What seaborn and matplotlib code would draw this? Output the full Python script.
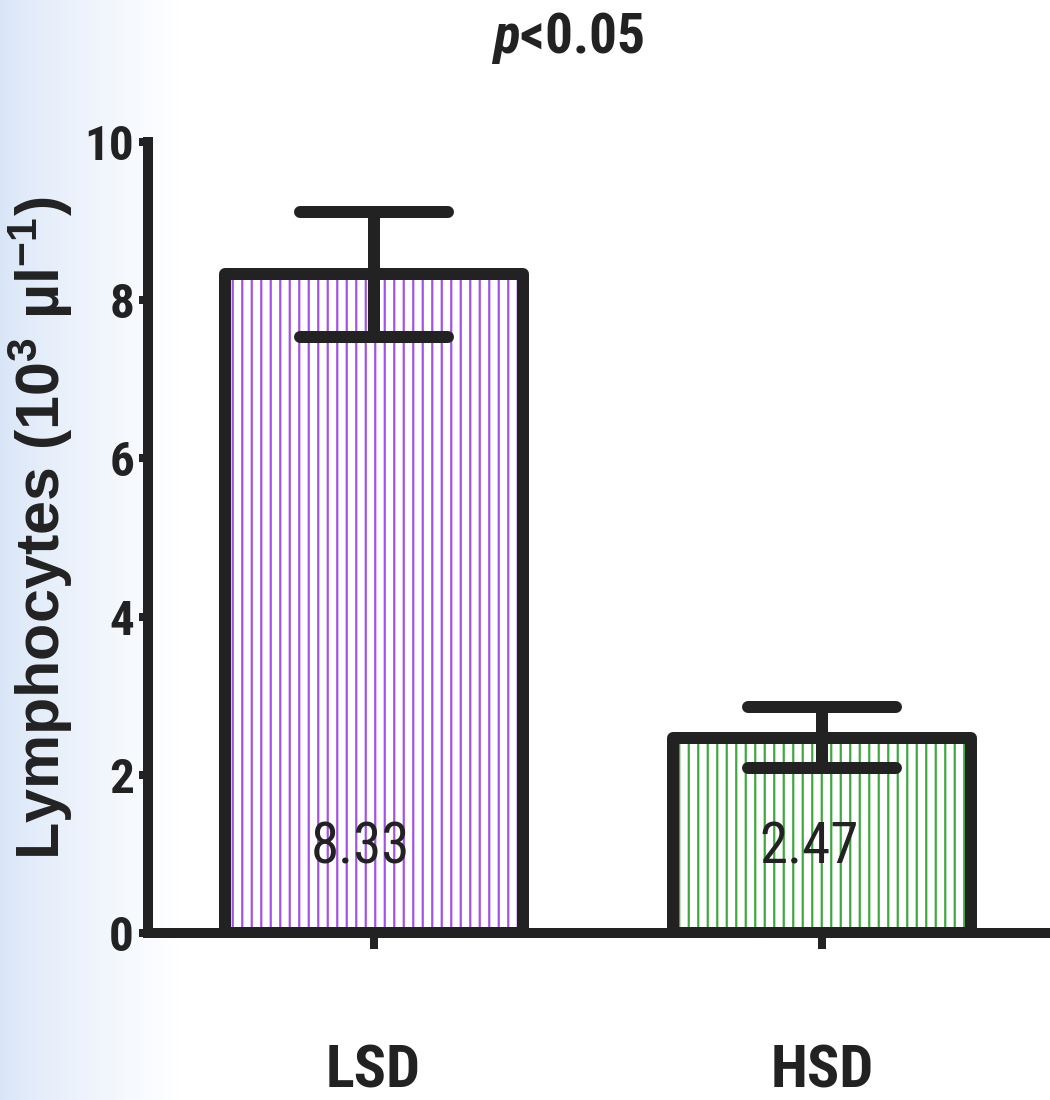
import numpy as np
import pandas as pd
import matplotlib
matplotlib.use("Agg")
import matplotlib.pyplot as plt
from matplotlib import font_manager as fm
from matplotlib.markers import MarkerStyle
import seaborn as sns

# Data
groups = ["LSD", "HSD"]
means = [8.33, 2.47]
sems = [0.79, 0.39]
hatch_colors = ["#a452e6", "#3ea83e"]
yticks = [0, 2, 4, 6, 8, 10]
value_labels = ["8.33", "2.47"]

DPI = 114


def px(n):
    """Pixels to points at the figure resolution."""
    return n * 72.0 / DPI


INK = "#222222"

# prefer a condensed sans face when one is installed
installed = {f.name for f in fm.fontManager.ttflist}
narrow_candidates = ["Liberation Sans Narrow", "Arial Narrow", "Nimbus Sans Narrow",
                     "Roboto Condensed", "Noto Sans Condensed", "Open Sans Condensed",
                     "DejaVu Sans Condensed"]
narrow = next((n for n in narrow_candidates if n in installed), None)
base = narrow if narrow else "Liberation Sans"
shrink = 1.0 if narrow else 0.88

sns.set_theme(style="white")
plt.rcParams["font.family"] = [base, "Liberation Sans", "DejaVu Sans"]
plt.rcParams["mathtext.fontset"] = "custom"
plt.rcParams["mathtext.it"] = base + ":italic:bold"
plt.rcParams["mathtext.default"] = "regular"
plt.rcParams["hatch.linewidth"] = px(2.2)

df = pd.DataFrame({"group": groups, "mean": means, "sem": sems})

fig = plt.figure(figsize=(1050 / DPI, 1100 / DPI), dpi=DPI)

# faint bluish tint along the left edge of the page
bg = fig.add_axes([0, 0, 1, 1], zorder=-10)
t = np.clip(np.linspace(0, 1, 1050) / 0.17, 0, 1)[None, :, None] ** 0.8
left_col = np.array([0.85, 0.90, 0.97])
grad = left_col * (1 - t) + np.ones(3) * t
bg.imshow(np.repeat(grad, 2, axis=0), aspect="auto", extent=[0, 1, 0, 1])
bg.set_axis_off()

ax = fig.add_axes([148 / 1050, 167 / 1100, 1 - 148 / 1050, 791 / 1100])
ax.patch.set_alpha(0)

# hatched fill
sns.barplot(data=df, x="group", y="mean", hue="group", palette=["white", "white"],
            width=0.664, errorbar=None, legend=False, ax=ax, zorder=2)
for patch, col in zip(ax.patches, hatch_colors):
    patch.set_edgecolor(col)
    patch.set_linewidth(0)
    patch.set_hatch("||")

# thick outline
sns.barplot(data=df, x="group", y="mean", fill=False, color=INK,
            width=0.664, errorbar=None, ax=ax, zorder=3, linewidth=px(12))
for patch in ax.patches[len(groups):]:
    patch.set_edgecolor(INK)
    patch.set_linewidth(px(12))
    patch.set_joinstyle("round")

eb = ax.errorbar(x=np.arange(len(groups)), y=df["mean"], yerr=df["sem"], fmt="none",
                 ecolor=INK, elinewidth=px(12), capsize=px(74), capthick=px(12), zorder=5)
for cap in eb[1]:
    cap.set_marker(MarkerStyle("_", capstyle="round"))
for seg in eb[2]:
    seg.set_capstyle("round")

for i, txt in enumerate(value_labels):
    ax.text(i - 0.03, 1.07, txt, ha="center", va="center", fontsize=36 * shrink,
            color=INK, zorder=6)

ax.set_xlim(-0.503, 1.508)
ax.set_ylim(0, 10)
ax.set_yticks(yticks)
ax.set_yticklabels([str(v) for v in yticks], fontsize=31 * shrink,
                   fontweight="bold", color=INK)
ax.set_xticks(range(len(groups)))
ax.set_xticklabels(groups, fontsize=38 * shrink, fontweight="bold", color=INK)

for side in ["top", "right"]:
    ax.spines[side].set_visible(False)
for side in ["left", "bottom"]:
    ax.spines[side].set_linewidth(px(10))
    ax.spines[side].set_color(INK)
    ax.spines[side].set_zorder(4)

ax.tick_params(axis="y", direction="out", length=px(9), width=px(8), color=INK,
               pad=px(5), left=True)
ax.tick_params(axis="x", direction="out", length=px(16), width=px(8), color=INK,
               pad=px(94), bottom=True)
ax.grid(False)

ax.set_xlabel("")
ax.set_ylabel(r"Lymphocytes (10$^{3}$ µl$^{-1}$)", fontsize=38.5, fontweight="bold",
              family=["Liberation Sans", "DejaVu Sans"], color=INK,
              ha="center", va="center", rotation_mode="default")
ax.yaxis.set_label_coords(-0.1197, 0.512)

fig.text(568 / 1050, 1 - 53 / 1100, r"$\mathit{p}$<0.05", ha="center", va="baseline",
         fontsize=35 * shrink, fontweight="bold", color=INK)

fig.savefig("out.png", dpi=DPI)
